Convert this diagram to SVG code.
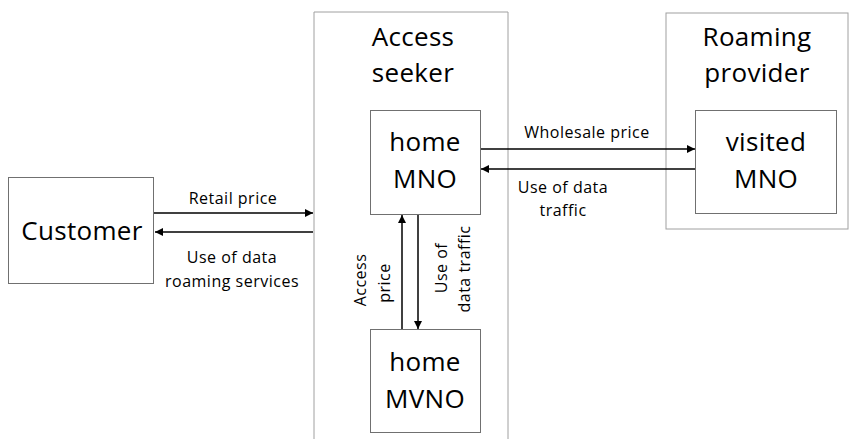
<svg xmlns="http://www.w3.org/2000/svg" width="849" height="439" viewBox="0 0 849 439">
<defs>
<marker id="ah" viewBox="0 0 10 10" refX="10" refY="5" markerWidth="8" markerHeight="8" markerUnits="userSpaceOnUse" orient="auto">
<path d="M0,0 L10,5 L0,10 z" fill="#000"/>
</marker>
<style>
.outer{fill:#fff;stroke:#a0a0a0;stroke-width:1}
.box{fill:#fff;stroke:#707070;stroke-width:1}
.big{font-family:"Open Sans","Liberation Sans",sans-serif;font-size:26px;letter-spacing:0.3px;fill:#000;text-anchor:middle}
.lbl{font-family:"Open Sans","Liberation Sans",sans-serif;font-size:16px;letter-spacing:0.5px;fill:#000;text-anchor:middle}
.con{stroke:#000;stroke-width:1.5;fill:none;marker-end:url(#ah)}
</style>
</defs>
<rect width="849" height="439" fill="#fff"/>
<g id="access-seeker">
<path class="outer" d="M314,440 V12 H508 V440"/>
<text class="big" x="413" y="46">Access</text>
<text class="big" x="413" y="82">seeker</text>
</g>
<g id="roaming-provider">
<rect class="outer" x="666" y="13" width="182" height="216"/>
<text class="big" x="757" y="46">Roaming</text>
<text class="big" x="757" y="82">provider</text>
</g>
<g id="customer">
<rect class="box" x="8.5" y="177.5" width="145" height="106"/>
<text class="big" x="82" y="240">Customer</text>
</g>
<g id="home-mno">
<rect class="box" x="370.5" y="110.5" width="110" height="104"/>
<text class="big" x="425" y="151">home</text>
<text class="big" x="425" y="188">MNO</text>
</g>
<g id="home-mvno">
<rect class="box" x="370.5" y="329.5" width="110" height="103"/>
<text class="big" x="425" y="371">home</text>
<text class="big" x="425" y="408">MVNO</text>
</g>
<g id="visited-mno">
<rect class="box" x="695.5" y="110.5" width="141" height="103"/>
<text class="big" x="766" y="151">visited</text>
<text class="big" x="766" y="188">MNO</text>
</g>
<g id="connectors">
<line class="con" x1="154" y1="213" x2="313" y2="213"/>
<line class="con" x1="313" y1="232" x2="155" y2="232"/>
<line class="con" x1="481" y1="149" x2="695" y2="149"/>
<line class="con" x1="695" y1="169" x2="481" y2="169"/>
<line class="con" x1="402" y1="329" x2="402" y2="215"/>
<line class="con" x1="418" y1="215" x2="418" y2="329"/>
<text class="lbl" x="233" y="204">Retail price</text>
<text class="lbl" x="232" y="263">Use of data</text>
<text class="lbl" x="232" y="287">roaming services</text>
<text class="lbl" x="587" y="138">Wholesale price</text>
<text class="lbl" x="563" y="193">Use of data</text>
<text class="lbl" x="563" y="216">traffic</text>
<text class="lbl" transform="translate(366,280) rotate(-90)">Access</text>
<text class="lbl" transform="translate(390,283) rotate(-90)">price</text>
<text class="lbl" transform="translate(447,268) rotate(-90)">Use of</text>
<text class="lbl" transform="translate(470,269) rotate(-90)">data traffic</text>
</g>
</svg>
